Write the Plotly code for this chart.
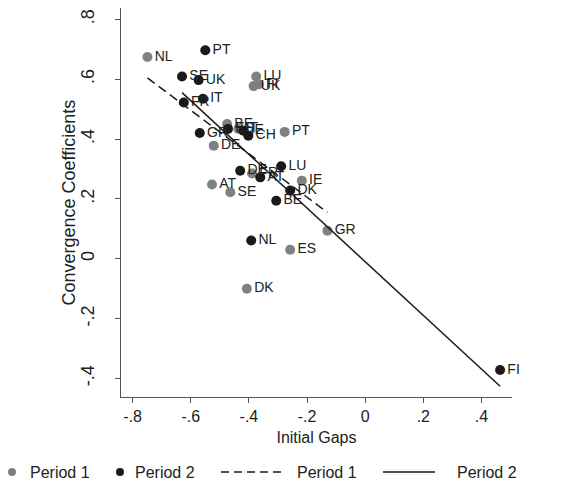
import plotly.graph_objects as go
import numpy as np

# Period 1 (gray markers)
p1_countries = ["NL", "LU", "FI", "UK", "BE", "IT", "PT", "DE", "FR", "AT", "SE", "IE", "GR", "ES", "DK"]
p1_gap = [-0.749, -0.375, -0.366, -0.384, -0.475, -0.436, -0.277, -0.521, -0.389, -0.527, -0.464, -0.218, -0.130, -0.258, -0.407]
p1_coef = [0.674, 0.609, 0.583, 0.577, 0.450, 0.434, 0.424, 0.378, 0.285, 0.248, 0.222, 0.261, 0.094, 0.030, -0.100]

# Period 2 (black markers)
p2_countries = ["PT", "SE", "UK", "IT", "FR", "GR", "ES", "IE", "CH", "DE", "AT", "LU", "DK", "BE", "NL", "FI"]
p2_gap = [-0.550, -0.630, -0.573, -0.558, -0.624, -0.569, -0.472, -0.419, -0.402, -0.430, -0.361, -0.289, -0.258, -0.306, -0.392, 0.464]
p2_coef = [0.697, 0.609, 0.597, 0.535, 0.522, 0.420, 0.434, 0.428, 0.411, 0.294, 0.272, 0.309, 0.228, 0.194, 0.061, -0.372]

# Fitted lines (intercept, slope)
p1_fit = [0.0605, -0.726]
p2_fit = [-0.010, -0.897]

x_ticks = [-0.8, -0.6, -0.4, -0.2, 0, 0.2, 0.4]
x_ticktext = ["-.8", "-.6", "-.4", "-.2", "0", ".2", ".4"]
y_ticks = [-0.4, -0.2, 0, 0.2, 0.4, 0.6, 0.8]
y_ticktext = ["-.4", "-.2", "0", ".2", ".4", ".6", ".8"]

GRAY = "#808080"
BLACK = "#1a1a1a"
FONT = "Liberation Sans, Arial, sans-serif"

fig = go.Figure()

fig.add_trace(go.Scatter(
    x=p1_gap, y=p1_coef, mode="markers+text", text=p1_countries,
    textposition="middle right", textfont=dict(size=14, color="#222222", family=FONT),
    marker=dict(size=10, color=GRAY), showlegend=False, cliponaxis=False))
fig.add_trace(go.Scatter(
    x=p2_gap, y=p2_coef, mode="markers+text", text=p2_countries,
    textposition="middle right", textfont=dict(size=14, color="#222222", family=FONT),
    marker=dict(size=10, color=BLACK), showlegend=False, cliponaxis=False))

for gaps, fit, dash in [(p1_gap, p1_fit, "9px,5px"), (p2_gap, p2_fit, "solid")]:
    xs = np.array([min(gaps), max(gaps)])
    ys = fit[0] + fit[1] * xs
    fig.add_trace(go.Scatter(x=xs, y=ys, mode="lines",
                             line=dict(color=BLACK, width=1.5, dash=dash),
                             showlegend=False, hoverinfo="skip"))

# manual legend (paper coordinates)
ly = -0.193
legend_items = [
    ("dot", GRAY, -0.2788, -0.2379, "Period 1"),
    ("dot", BLACK, -0.0026, 0.0307, "Period 2"),
    ("dash", BLACK, (0.2558, 0.4143), 0.445, "Period 1"),
    ("solid", BLACK, (0.670, 0.803), 0.854, "Period 2"),
]
shapes = []
annotations = []
for kind, col, pos, tx, label in legend_items:
    if kind == "dot":
        shapes.append(dict(type="circle", xref="paper", yref="paper",
                           xsizemode="pixel", ysizemode="pixel",
                           xanchor=pos, yanchor=ly, x0=-4, x1=4, y0=-4, y1=4,
                           fillcolor=col, line=dict(width=0)))
    else:
        shapes.append(dict(type="line", xref="paper", yref="paper",
                           x0=pos[0], x1=pos[1], y0=ly, y1=ly,
                           line=dict(color=col, width=1.5,
                                     dash="8px,5px" if kind == "dash" else "solid")))
    annotations.append(dict(text=label, xref="paper", yref="paper", x=tx, y=ly,
                            xanchor="left", yanchor="middle", showarrow=False,
                            font=dict(size=16, color="#222222", family=FONT)))

# y-axis title as rotated annotation
annotations.append(dict(text="Convergence Coefficients", xref="paper", yref="paper",
                        x=0, y=0.5, xanchor="center", yanchor="middle", xshift=-53,
                        textangle=-90, showarrow=False,
                        font=dict(size=18, color="#222222", family=FONT)))

fig.update_layout(
    width=565, height=479,
    margin=dict(l=113, r=61, t=0, b=90),
    plot_bgcolor="white", paper_bgcolor="white",
    font=dict(family=FONT, color="#222222"),
    shapes=shapes, annotations=annotations,
    xaxis=dict(range=[-0.84, 0.505], tickvals=x_ticks, ticktext=x_ticktext,
               showgrid=False, zeroline=False, showline=True, linecolor="#555555", linewidth=1,
               ticks="outside", ticklen=5, tickcolor="#555555",
               tickfont=dict(size=16, family=FONT, color="#222222"),
               title=dict(text="Initial Gaps", font=dict(size=16, family=FONT, color="#222222"), standoff=7)),
    yaxis=dict(range=[-0.462, 0.838], tickvals=y_ticks, ticktext=y_ticktext, tickangle=-90,
               showgrid=False, zeroline=False, showline=True, linecolor="#555555", linewidth=1,
               ticks="outside", ticklen=5, tickcolor="#555555", ticklabelstandoff=14,
               tickfont=dict(size=18, family=FONT, color="#222222")),
)

fig.write_html("out.html")
